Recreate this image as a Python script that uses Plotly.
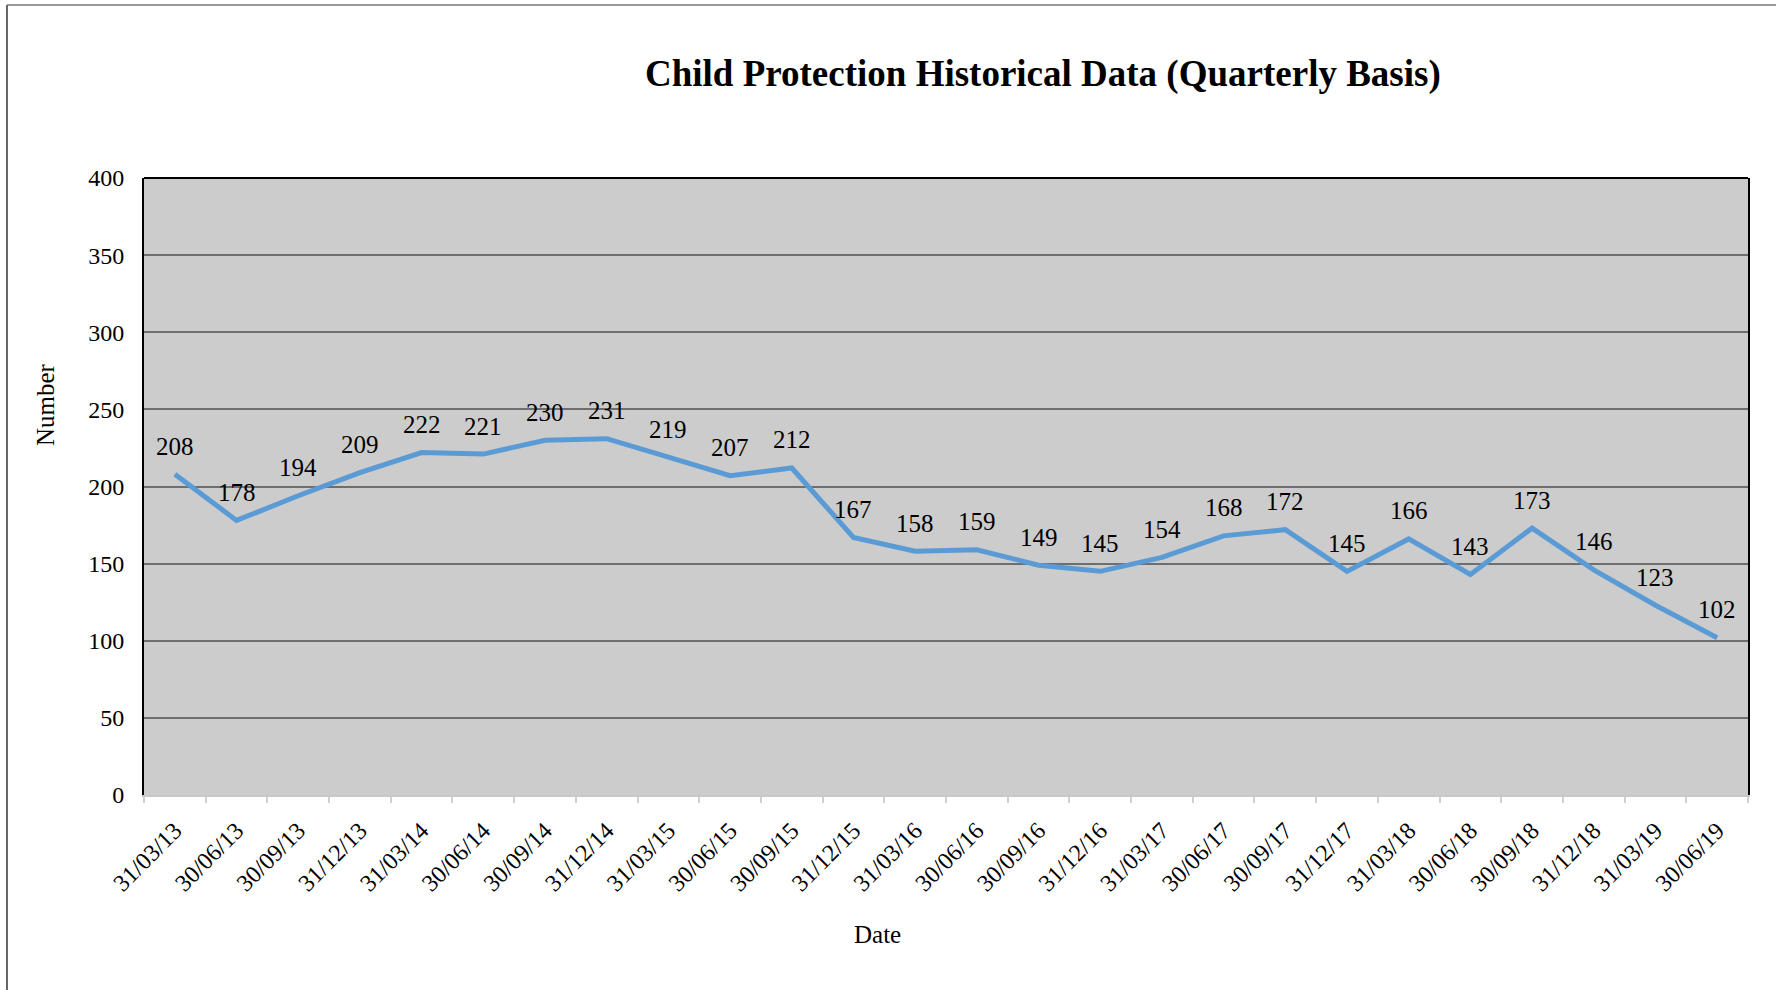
import plotly.graph_objects as go

dates = ["31/03/13", "30/06/13", "30/09/13", "31/12/13", "31/03/14", "30/06/14",
         "30/09/14", "31/12/14", "31/03/15", "30/06/15", "30/09/15", "31/12/15",
         "31/03/16", "30/06/16", "30/09/16", "31/12/16", "31/03/17", "30/06/17",
         "30/09/17", "31/12/17", "31/03/18", "30/06/18", "30/09/18", "31/12/18",
         "31/03/19", "30/06/19"]
numbers = [208, 178, 194, 209, 222, 221, 230, 231, 219, 207, 212, 167, 158, 159,
           149, 145, 154, 168, 172, 145, 166, 143, 173, 146, 123, 102]
y_ticks = [0, 50, 100, 150, 200, 250, 300, 350, 400]

FONT = "Liberation Serif, Times New Roman, serif"
W, H = 1776, 990
L, R, T, B = 144, 1748, 178, 795
pw, ph = R - L, B - T

def px(x):
    return (x - L) / pw

def py(y):
    return (B - y) / ph

fig = go.Figure()
fig.add_trace(go.Scatter(
    x=dates, y=numbers, mode="lines",
    line=dict(color="#5B9BD5", width=5),
    hoverinfo="x+y", showlegend=False,
))

annotations = []
for d, v in zip(dates, numbers):
    annotations.append(dict(x=d, y=v, xref="x", yref="y", text=str(v),
                            showarrow=False, yshift=28, yanchor="middle",
                            font=dict(family=FONT, size=25, color="black")))

annotations.append(dict(text="<b>Child Protection Historical Data (Quarterly Basis)</b>",
                        x=px(1043), y=py(74), xref="paper", yref="paper",
                        showarrow=False, xanchor="center", yanchor="middle",
                        font=dict(family=FONT, size=37, color="black")))
annotations.append(dict(text="Number", x=px(45), y=py(405), xref="paper", yref="paper",
                        showarrow=False, textangle=-90, xanchor="center", yanchor="middle",
                        font=dict(family=FONT, size=25, color="black")))
annotations.append(dict(text="Date", x=px(877), y=py(934), xref="paper", yref="paper",
                        showarrow=False, xanchor="center", yanchor="middle",
                        font=dict(family=FONT, size=25, color="black")))

shapes = [
    # outer border (left and top)
    dict(type="line", xref="paper", yref="paper", x0=px(7), x1=px(7), y0=py(1000), y1=py(5),
         line=dict(color="#333333", width=1.5)),
    dict(type="line", xref="paper", yref="paper", x0=px(7), x1=px(1790), y0=py(5), y1=py(5),
         line=dict(color="#777777", width=1.5)),
    # top frame of plot
    dict(type="line", xref="paper", yref="paper", x0=0, x1=1, y0=1, y1=1,
         line=dict(color="black", width=2)),
]

fig.update_layout(
    width=W, height=H,
    margin=dict(l=L, r=W - R, t=T, b=H - B, autoexpand=False),
    paper_bgcolor="white",
    plot_bgcolor="#CCCCCC",
    font=dict(family=FONT, size=24, color="black"),
    annotations=annotations,
    shapes=shapes,
    xaxis=dict(
        type="category", categoryorder="array", categoryarray=dates,
        range=[-0.5, len(dates) - 0.5],
        tickangle=-45, tickfont=dict(family=FONT, size=24, color="black"),
        ticks="outside", tickson="boundaries", ticklen=6, tickcolor="#D0D0D0", tickwidth=2,
        showline=True, linecolor="#C8C8C8", linewidth=2, mirror=False,
        showgrid=False, zeroline=False, ticklabelstandoff=10,
    ),
    yaxis=dict(
        range=[0, 400], tickvals=y_ticks, ticktext=[str(t) for t in y_ticks],
        tickfont=dict(family=FONT, size=24, color="black"),
        showline=True, linecolor="black", linewidth=2, mirror=True,
        showgrid=True, gridcolor="#6E6E6E", gridwidth=1.5,
        zeroline=False, ticks="", ticklabelstandoff=13,
    ),
)

fig.write_html("out.html")
